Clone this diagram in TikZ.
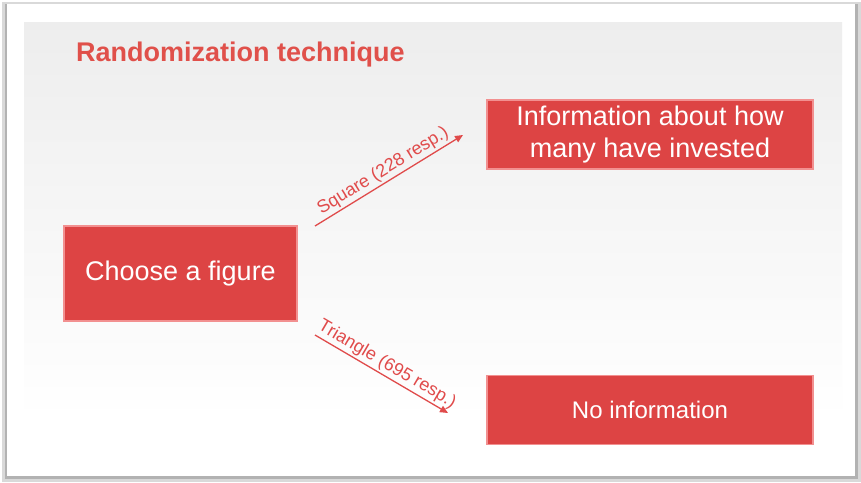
\documentclass[tikz,border=0pt]{standalone}
\usepackage{fontspec}
\setmainfont{Liberation Sans}
\usetikzlibrary{arrows.meta}
\definecolor{boxred}{HTML}{DD4444}
\definecolor{boxedge}{HTML}{F29090}
\definecolor{titlered}{HTML}{E0504A}
\definecolor{linered}{HTML}{E04B4B}
\tikzset{
  redbox/.style={fill=boxred, draw=boxedge, line width=1.5pt, text=white, align=center, inner sep=0pt, font=\fontsize{27}{32}\selectfont},
  conn/.style={draw=linered, line width=1.3pt, -{Triangle[length=8pt,width=7pt]}},
  lbl/.style={text=linered, font=\fontsize{18}{20}\selectfont, sloped, above, inner sep=2pt}
}
\begin{document}
\begin{tikzpicture}[x=1pt,y=-1pt]
\useasboundingbox (0,0) rectangle (861,482);
% frame with shadow
\fill[black!15] (2,2) rectangle (861,482);
\fill[black!30] (5,4) rectangle (858,479);
\fill[white] (7,4) rectangle (855,476);
% gray slide area
\shade[top color=black!7, bottom color=white] (24,22) rectangle (842,420);
\fill[white] (24,420) rectangle (842,470);
% title
\node[anchor=west, text=titlered, inner sep=0pt, font=\bfseries\fontsize{27}{32}\selectfont] (title) at (76,55) {Randomization technique};
% boxes
\node[redbox, minimum width=233pt, minimum height=95pt] (choose) at (180.5,273.5) {Choose a figure};
\node[redbox, minimum width=326pt, minimum height=69pt] (info) at (650,134.5) {Information about how\\many have invested};
\node[redbox, minimum width=326pt, minimum height=69pt, font=\fontsize{24}{28}\selectfont] (noinfo) at (650,410) {No information};
% connectors
\coordinate (s1) at (315,226);
\coordinate (e1) at (463,135);
\coordinate (s2) at (315,335);
\coordinate (e2) at (448,413);
\draw[conn] (s1) -- node[lbl] {Square (228 resp.)} (e1);
\draw[conn] (s2) -- node[lbl] {Triangle (695 resp.)} (e2);
\end{tikzpicture}
\end{document}
